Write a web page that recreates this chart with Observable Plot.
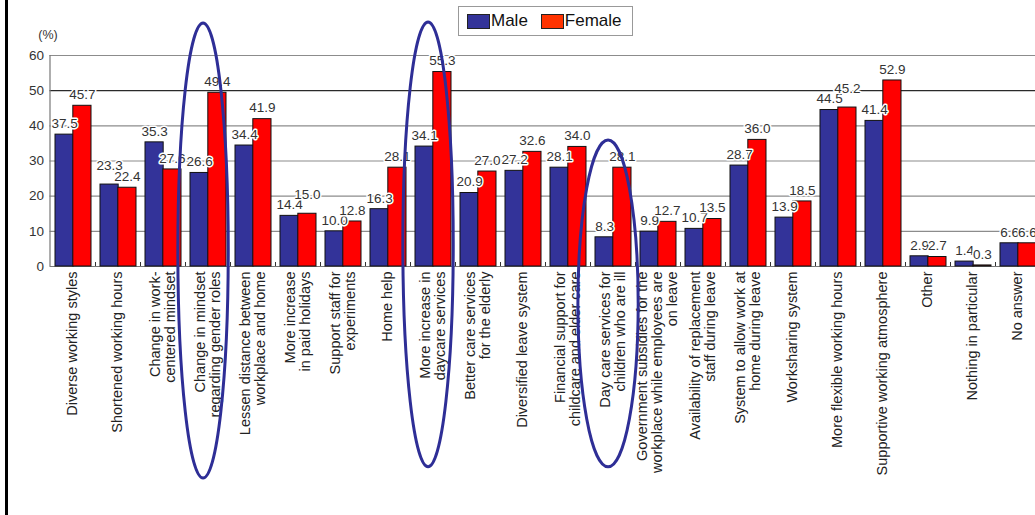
<!DOCTYPE html>
<html><head><meta charset="utf-8">
<script src="https://cdn.jsdelivr.net/npm/d3@7"></script>
<script src="https://cdn.jsdelivr.net/npm/@observablehq/plot@0.6"></script>
<style>
html,body{margin:0;padding:0;background:#fff;overflow:hidden}
#wrap{position:relative;width:1035px;height:515px;font-family:"Liberation Sans",Arial,sans-serif}
#chart{position:absolute;left:0;top:0}
#border{position:absolute;left:5px;top:0;width:3px;height:515px;background:#000}
#legend{position:absolute;left:458px;top:6px;width:175px;height:30px;border:1px solid #999;box-sizing:border-box;background:#fff;display:flex;align-items:center;padding-left:8px;font-size:17px;color:#111}
#legend .sw{display:inline-block;width:23px;height:15px;border:1px solid #222;box-sizing:border-box;margin-right:1px}
#legend .it{display:flex;align-items:center;margin-right:13px}
</style></head>
<body><div id="wrap"><div id="chart"></div><div id="border"></div><div id="legend"></div></div>
<script>
const categories = [
  "Diverse working styles",
  "Shortened working hours",
  "Change in work-\ncentered mindset",
  "Change in mindset\nregarding gender roles",
  "Lessen distance between\nworkplace and home",
  "More increase\nin paid holidays",
  "Support staff for\nexperiments",
  "Home help",
  "More increase in\ndaycare services",
  "Better care services\nfor the elderly",
  "Diversified leave system",
  "Financial support for\nchildcare and elder care",
  "Day care services for\nchildren who are ill",
  "Government subsidies for the\nworkplace while employees are\non leave",
  "Availability of replacement\nstaff during leave",
  "System to allow work at\nhome during leave",
  "Worksharing system",
  "More flexible working hours",
  "Supportive working atmosphere",
  "Other",
  "Nothing in particular",
  "No answer"
];
const male   = [37.5, 23.3, 35.3, 26.6, 34.4, 14.4, 10.0, 16.3, 34.1, 20.9, 27.2, 28.1, 8.3, 9.9, 10.7, 28.7, 13.9, 44.5, 41.4, 2.9, 1.4, 6.6];
const female = [45.7, 22.4, 27.6, 49.4, 41.9, 15.0, 12.8, 28.1, 55.3, 27.0, 32.6, 34.0, 28.1, 12.7, 13.5, 36.0, 18.5, 45.2, 52.9, 2.7, 0.3, 6.6];
const yTicks = [0, 10, 20, 30, 40, 50, 60];
const seriesNames = ["Male", "Female"];
const seriesColors = ["#333399", "#ff0000"];
const legendColors = ["#333399", "#ff3300"];
const yLabel = "(%)";
// highlighted groups (annotation ellipses), extents in value units
const highlightCats = [categories[3], categories[8], categories[12]];
const highlightTop = [69.1, 69.4, 35.8];
const highlightBottom = [-60.3, -57.1, -57.1];
const highlightRx = [0.56, 0.56, 0.67];

const W = 1035, H = 515;
const mL = 49.5, mR = -6.7, mT = 55, mB = 249;
const padIn = 0.21, padOut = 0.1;
const bw = d3.scaleBand().domain(categories).range([mL, W - mR]).paddingInner(padIn).paddingOuter(padOut).bandwidth();

const rows = [];
categories.forEach((c, i) => {
  const m = male[i], f = female[i];
  const close = Math.abs(m - f) < 1.2 && Math.max(m, f) >= 10;
  rows.push({c, s: seriesNames[0], v: m, raise: close && m > f});
  rows.push({c, s: seriesNames[1], v: f, raise: close && f > m});
});
const M = rows.filter(d => d.s === seriesNames[0]);
const F = rows.filter(d => d.s === seriesNames[1]);

function labels(data, dx) {
  const common = {x: "c", y: "v", text: d => d.v.toFixed(1), fontSize: 13.5, fill: "#333",
    stroke: "white", strokeWidth: 3, lineAnchor: "middle", dx};
  return [
    Plot.text(data.filter(d => !d.raise), {...common, dy: -11}),
    Plot.text(data.filter(d => d.raise), {...common, dy: -19})
  ];
}

function decor(index, scales, values, dims) {
  const x = scales.x, y = scales.y;
  const bandw = typeof x.bandwidth === "function" ? x.bandwidth() : bw;
  const step = typeof x.step === "function" ? x.step() : bw / (1 - padIn);
  const g = d3.create("svg:g");
  const y0 = y(0);
  // y axis line
  g.append("line").attr("x1", dims.marginLeft + 0.5).attr("x2", dims.marginLeft + 0.5)
    .attr("y1", y(60)).attr("y2", y0).attr("stroke", "#777").attr("stroke-width", 1.2);
  // group boundary ticks
  categories.forEach((c, i) => {
    if (i === 0) return;
    const xb = x(c) - (step - bandw) / 2;
    g.append("line").attr("x1", xb).attr("x2", xb).attr("y1", y0).attr("y2", y0 - 4)
      .attr("stroke", "#333").attr("stroke-width", 1);
  });
  // ellipses
  highlightCats.forEach((c, i) => {
    const cx = x(c) + bandw / 2 - 0.11 * step;
    const yt = y(highlightTop[i]), yb = y(highlightBottom[i]);
    g.append("ellipse").attr("cx", cx).attr("cy", (yt + yb) / 2)
      .attr("rx", highlightRx[i] * step).attr("ry", (yb - yt) / 2)
      .attr("fill", "none").attr("stroke", "#2e2e96").attr("stroke-width", 3);
  });
  return g.node();
}

const chart = Plot.plot({
  width: W, height: H,
  marginLeft: mL, marginRight: mR, marginTop: mT, marginBottom: mB,
  style: {fontFamily: '"Liberation Sans", Arial, sans-serif', background: "transparent", overflow: "hidden"},
  x: {domain: categories, paddingInner: padIn, paddingOuter: padOut, axis: null},
  y: {domain: [0, 60]},
  marks: [
    Plot.ruleY(yTicks.filter(t => t !== 0 && t !== 50), {stroke: "#8c8c8c", strokeWidth: 1.2, strokeOpacity: 1}),
    Plot.ruleY([50], {stroke: "#2a2a2a", strokeWidth: 1.2}),
    Plot.ruleY([0], {stroke: "#777", strokeWidth: 1.2}),
    Plot.axisY({ticks: yTicks, tickSize: 0, tickPadding: 6, fontSize: 13.5, label: null, tickFormat: d => String(d), fill: "#333"}),
    Plot.text([yLabel], {frameAnchor: "top-left", text: d => d, dx: -2, dy: -25, fontSize: 12.5, fill: "#333", textAnchor: "middle"}),
    Plot.barY(M, {x: "c", y: "v", fill: seriesColors[0], stroke: "#111", strokeWidth: 1, insetRight: bw / 2}),
    Plot.barY(F, {x: "c", y: "v", fill: seriesColors[1], stroke: "#111", strokeWidth: 1, insetLeft: bw / 2}),
    ...labels(M, -bw / 4),
    ...labels(F, bw / 4),
    Plot.text(categories, {x: d => d, text: d => d, frameAnchor: "bottom", rotate: -90, textAnchor: "end",
      lineAnchor: "middle", lineHeight: 1.02, dy: 5, dx: -1, fontSize: 14.5, fill: "#222"}),
    decor
  ]
});
document.getElementById("chart").appendChild(chart);

const leg = document.getElementById("legend");
seriesNames.forEach((n, i) => {
  const it = document.createElement("span"); it.className = "it";
  const sw = document.createElement("span"); sw.className = "sw"; sw.style.background = legendColors[i];
  it.appendChild(sw); it.appendChild(document.createTextNode(n));
  leg.appendChild(it);
});
</script>
</body></html>
